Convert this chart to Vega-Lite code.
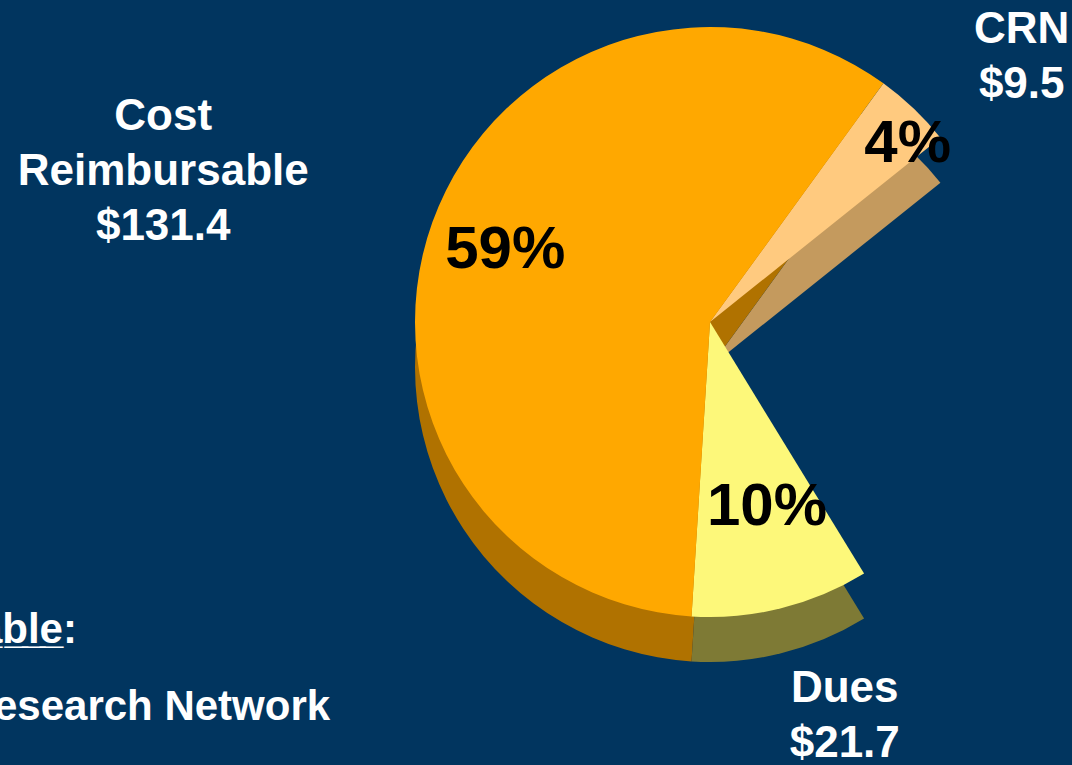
{
  "$schema": "https://vega.github.io/schema/vega-lite/v6.json",
  "width": 724,
  "height": 644,
  "autosize": {"type": "none"},
  "padding": {"left": 348, "top": 0, "right": 0, "bottom": 121},
  "background": "#01355F",
  "config": {"view": {"stroke": null}, "text": {"font": "Liberation Sans", "fontWeight": "bold"}},
  "datasets": {
    "slices": [
      {"name": "CRN", "value": 9.5, "pct": 4},
      {"name": "Other", "value": 60.1, "pct": 27},
      {"name": "Dues", "value": 21.7, "pct": 10},
      {"name": "Cost Reimbursable", "value": 131.4, "pct": 59}
    ],
    "notes": [
      {"line": "a̲b̲l̲e̲:", "row": 1},
      {"line": "esearch Network", "row": 2}
    ]
  },
  "layer": [
    {
      "data": {"name": "slices"},
      "mark": {"type": "arc", "radius": 295, "yOffset": 45, "thetaOffset": 0.8964, "theta2Offset": 0.8964},
      "encoding": {
        "theta": {"field": "value", "type": "quantitative", "stack": true},
        "order": {"field": "name", "sort": "descending"},
        "color": {"field": "name", "type": "nominal",
          "scale": {"domain": ["CRN", "Other", "Dues", "Cost Reimbursable"], "range": ["#C49A5E", "rgba(0,0,0,0)", "#7E7A35", "#B07200"]},
          "legend": null}
      }
    },
    {
      "data": {"name": "slices"},
      "mark": {"type": "arc", "radius": 295, "thetaOffset": 0.8964, "theta2Offset": 0.8964},
      "encoding": {
        "theta": {"field": "value", "type": "quantitative", "stack": true},
        "order": {"field": "name", "sort": "descending"},
        "color": {"field": "name", "type": "nominal",
          "scale": {"domain": ["CRN", "Other", "Dues", "Cost Reimbursable"], "range": ["#FFCA7F", "rgba(0,0,0,0)", "#FDF87A", "#FFA800"]},
          "legend": null}
      }
    },
    {
      "data": {"name": "slices"},
      "transform": [{"calculate": "datum.pct + '%'", "as": "pctText"}],
      "mark": {"type": "text", "radius": 217, "thetaOffset": 0.8885, "fontSize": 60, "color": "#000000", "align": "center", "baseline": "middle"},
      "encoding": {
        "theta": {"field": "value", "type": "quantitative", "stack": true},
        "order": {"field": "name", "sort": "descending"},
        "text": {"condition": {"test": "datum.name === 'Cost Reimbursable'", "field": "pctText", "type": "nominal"}, "value": ""}
      }
    },
    {
      "data": {"name": "slices"},
      "transform": [{"calculate": "datum.pct + '%'", "as": "pctText"}],
      "mark": {"type": "text", "radius": 266, "thetaOffset": 0.9718, "fontSize": 60, "color": "#000000", "align": "center", "baseline": "middle"},
      "encoding": {
        "theta": {"field": "value", "type": "quantitative", "stack": true},
        "order": {"field": "name", "sort": "descending"},
        "text": {"condition": {"test": "datum.name === 'CRN'", "field": "pctText", "type": "nominal"}, "value": ""}
      }
    },
    {
      "data": {"name": "slices"},
      "transform": [{"calculate": "datum.pct + '%'", "as": "pctText"}],
      "mark": {"type": "text", "radius": 194, "thetaOffset": 0.8414, "fontSize": 60, "color": "#000000", "align": "center", "baseline": "middle"},
      "encoding": {
        "theta": {"field": "value", "type": "quantitative", "stack": true},
        "order": {"field": "name", "sort": "descending"},
        "text": {"condition": {"test": "datum.name === 'Dues'", "field": "pctText", "type": "nominal"}, "value": ""}
      }
    },
    {
      "data": {"name": "slices"},
      "transform": [{"calculate": "replace(datum.name, ' ', '\\n') + '\\n$' + format(datum.value, '.1f')", "as": "labelText"}],
      "mark": {"type": "text", "radius": 567, "thetaOffset": 0.8186, "dy": -55, "fontSize": 44, "lineHeight": 55, "lineBreak": "\n", "color": "#FFFFFF", "align": "center", "baseline": "middle"},
      "encoding": {
        "theta": {"field": "value", "type": "quantitative", "stack": true},
        "order": {"field": "name", "sort": "descending"},
        "text": {"condition": {"test": "datum.name === 'Cost Reimbursable'", "field": "labelText", "type": "nominal"}, "value": ""}
      }
    },
    {
      "data": {"name": "slices"},
      "transform": [{"calculate": "replace(datum.name, ' ', '\\n') + '\\n$' + format(datum.value, '.1f')", "as": "labelText"}],
      "mark": {"type": "text", "radius": 409, "thetaOffset": 1.0006, "dy": -27, "fontSize": 44, "lineHeight": 55, "lineBreak": "\n", "color": "#FFFFFF", "align": "center", "baseline": "middle"},
      "encoding": {
        "theta": {"field": "value", "type": "quantitative", "stack": true},
        "order": {"field": "name", "sort": "descending"},
        "text": {"condition": {"test": "datum.name === 'CRN'", "field": "labelText", "type": "nominal"}, "value": ""}
      }
    },
    {
      "data": {"name": "slices"},
      "transform": [{"calculate": "replace(datum.name, ' ', '\\n') + '\\n$' + format(datum.value, '.1f')", "as": "labelText"}],
      "mark": {"type": "text", "radius": 416, "thetaOffset": 0.8100, "dy": -27, "fontSize": 44, "lineHeight": 55, "lineBreak": "\n", "color": "#FFFFFF", "align": "center", "baseline": "middle"},
      "encoding": {
        "theta": {"field": "value", "type": "quantitative", "stack": true},
        "order": {"field": "name", "sort": "descending"},
        "text": {"condition": {"test": "datum.name === 'Dues'", "field": "labelText", "type": "nominal"}, "value": ""}
      }
    },
    {
      "data": {"name": "notes"},
      "transform": [{"filter": "datum.row === 1"}],
      "mark": {"type": "text", "theta": 4.2595, "radius": 704, "fontSize": 42, "color": "#FFFFFF", "align": "right", "baseline": "middle"},
      "encoding": {"text": {"field": "line", "type": "nominal"}}
    },
    {
      "data": {"name": "notes"},
      "transform": [{"filter": "datum.row === 2"}],
      "mark": {"type": "text", "theta": 3.920, "radius": 541, "fontSize": 42, "color": "#FFFFFF", "align": "right", "baseline": "middle"},
      "encoding": {"text": {"field": "line", "type": "nominal"}}
    }
  ],
  "resolve": {"scale": {"color": "independent"}}
}
